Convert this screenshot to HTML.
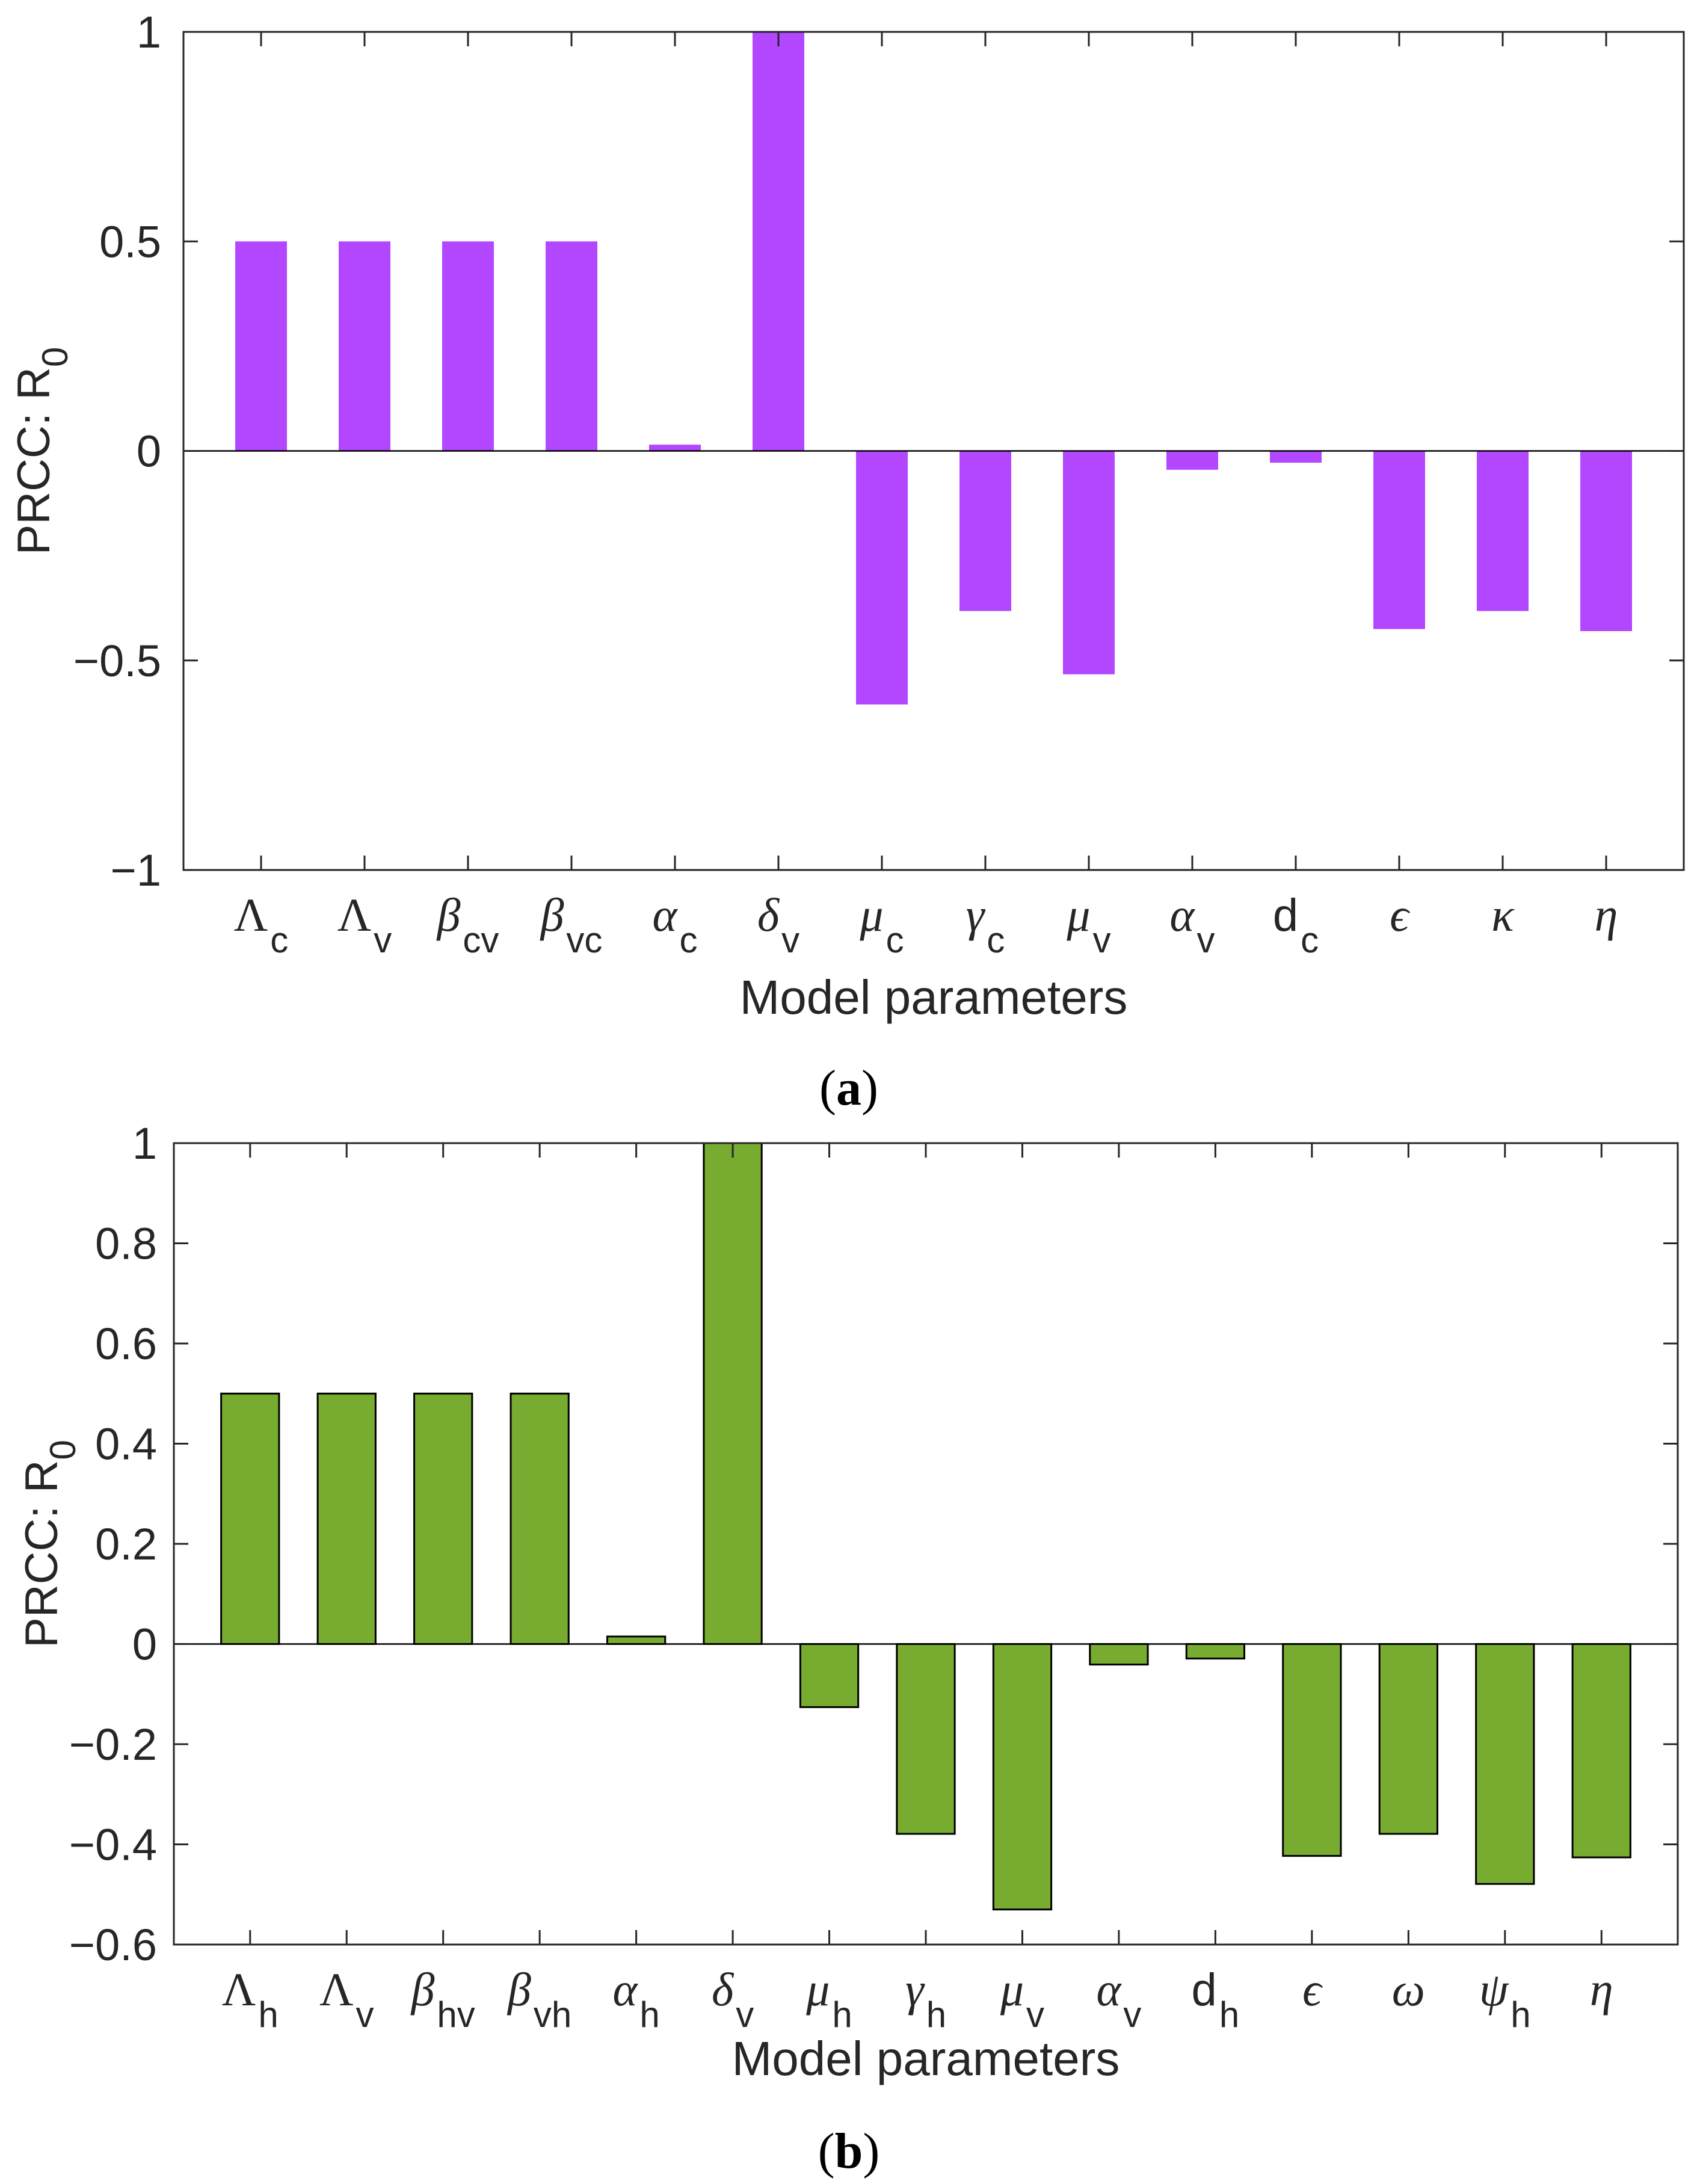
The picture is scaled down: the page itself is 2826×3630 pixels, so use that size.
<!DOCTYPE html>
<html><head><meta charset="utf-8">
<style>
html,body{margin:0;padding:0;background:#fff;}
svg{display:block;}
.tk{font-family:"Liberation Sans",sans-serif;font-size:74px;fill:#262626;}
.lab{font-family:"Liberation Sans",sans-serif;font-size:76px;fill:#262626;}
.xt{font-family:"Liberation Sans",sans-serif;font-size:80px;fill:#262626;}
.sym{font-family:"Liberation Serif",serif;font-size:78px;fill:#262626;}
.sub{font-family:"Liberation Sans",sans-serif;font-size:60px;fill:#262626;}
.cap{font-family:"Liberation Serif",serif;font-size:84px;fill:#000;}
</style></head>
<body>
<svg id="fig" width="2826" height="3630" viewBox="0 0 2826 3630" xmlns="http://www.w3.org/2000/svg"></svg>
<script>
// ---- Panel (a) data ----
const catsA = [["Λ","c",0],["Λ","v",0],["β","cv",1],["β","vc",1],["α","c",1],["δ","v",1],["μ","c",1],["γ","c",1],["μ","v",1],["α","v",1],["d","c",2],["ϵ","",1],["κ","",1],["η","",1]];
const valsA = [0.5,0.5,0.5,0.5,0.015,1.0,-0.605,-0.382,-0.533,-0.045,-0.028,-0.425,-0.382,-0.430];
const yTicksA = [-1,-0.5,0,0.5,1];
const yTickLabelsA = ["−1","−0.5","0","0.5","1"];
// ---- Panel (b) data ----
const catsB = [["Λ","h",0],["Λ","v",0],["β","hv",1],["β","vh",1],["α","h",1],["δ","v",1],["μ","h",1],["γ","h",1],["μ","v",1],["α","v",1],["d","h",2],["ϵ","",1],["ω","",1],["ψ","h",1],["η","",1]];
const valsB = [0.5,0.5,0.5,0.5,0.015,1.0,-0.126,-0.379,-0.530,-0.041,-0.029,-0.423,-0.379,-0.479,-0.426];
const yTicksB = [-0.6,-0.4,-0.2,0,0.2,0.4,0.6,0.8,1];
const yTickLabelsB = ["−0.6","−0.4","−0.2","0","0.2","0.4","0.6","0.8","1"];

const NS="http://www.w3.org/2000/svg";
const svg=document.getElementById('fig');
function mk(tag,attrs,parent){const e=document.createElementNS(NS,tag);for(const k in attrs)e.setAttribute(k,attrs[k]);(parent||svg).appendChild(e);return e;}

function panel(o){
  const g=mk('g',{});
  
  
  const xs=v=>o.L+(v-o.xmin)/(o.xmax-o.xmin)*(o.R-o.L);
  const ys=v=>o.B-(v-o.ymin)/(o.ymax-o.ymin)*(o.B-o.T);
  o.vals.forEach((v,i)=>{
    const cx=xs(i+1), w=(xs(1+o.bw)-xs(1));
    const y0=ys(0), y1=ys(v);
    const r=mk('rect',{x:cx-w/2,y:Math.min(y0,y1),width:w,height:Math.abs(y1-y0),fill:o.color,stroke:o.edge||'none','stroke-width':o.edge?3:0},g);
    
    
  });
  const bl=mk('line',{x1:o.L,x2:o.R,y1:ys(0),y2:ys(0),stroke:'#000','stroke-width':2.5},g);
  
  
  const box=mk('rect',{x:o.L,y:o.T,width:o.R-o.L,height:o.B-o.T,fill:'none',stroke:'#262626','stroke-width':3},g);
  
  
  const tl=24;
  o.yt.forEach((v,i)=>{
    const y=ys(v);
    mk('line',{x1:o.L,x2:o.L+tl,y1:y,y2:y,stroke:'#262626','stroke-width':3},g);
    mk('line',{x1:o.R,x2:o.R-tl,y1:y,y2:y,stroke:'#262626','stroke-width':3},g);
    const t=mk('text',{x:o.L-o.ylg,y:y+26,'text-anchor':'end',class:'tk'},g);
    t.textContent=o.ytl[i];
    
    
  });
  o.cats.forEach((c,i)=>{
    const x=xs(i+1);
    mk('line',{x1:x,x2:x,y1:o.B,y2:o.B-tl,stroke:'#262626','stroke-width':3},g);
    mk('line',{x1:x,x2:x,y1:o.T,y2:o.T+tl,stroke:'#262626','stroke-width':3},g);
    const t=mk('text',{x:x,y:o.B+101,'text-anchor':'middle'},g);
    
    
    const s=mk('tspan',{class:c[2]==2?'lab':'sym','font-style':c[2]==1?'italic':'normal'},t);
    s.textContent=c[0];
    if(c[1]){const b=mk('tspan',{class:'sub',dy:36,dx:4},t);b.textContent=c[1];}
  });
  const xl=mk('text',{x:(o.L+o.R)/2,y:o.xly,'text-anchor':'middle',class:'xt'},g);
  xl.textContent='Model parameters';
  
  
  const yl=mk('text',{x:0,y:0,'text-anchor':'middle',class:'lab',transform:`translate(${o.ylx},${(o.T+o.B)/2}) rotate(-90)`},g);
  
  
  const a=mk('tspan',{},yl);a.textContent='PRCC: R';
  const z=mk('tspan',{dy:30,style:'font-size:60px'},yl);z.textContent='0';
  const cp=mk('text',{x:1411,y:o.capy,'text-anchor':'middle',class:'cap'},g);
  
  
  const p1=mk('tspan',{},cp);p1.textContent='(';
  const p2=mk('tspan',{'font-weight':'bold'},cp);p2.textContent=o.cap;
  const p3=mk('tspan',{},cp);p3.textContent=')';
}

panel({name:'panel-a-chart',L:305,R:2799,T:53,B:1446,xmin:0.25,xmax:14.75,ymin:-1,ymax:1,bw:0.5,
  vals:valsA,cats:catsA,yt:yTicksA,ytl:yTickLabelsA,color:'#B347FF',ylg:37,xly:1685,ylx:82,capy:1836,cap:'a'});
panel({name:'panel-b-chart',L:289,R:2789,T:1900,B:3232,xmin:0.21,xmax:15.79,ymin:-0.6,ymax:1,bw:0.6,
  vals:valsB,cats:catsB,yt:yTicksB,ytl:yTickLabelsB,color:'#77AC30',edge:'#000',ylg:28,xly:3449,ylx:95,capy:3603,cap:'b'});
</script>
</body></html>
